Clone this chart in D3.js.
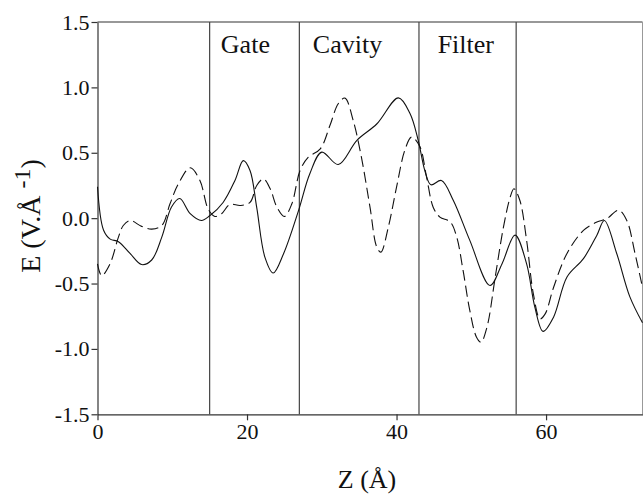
<!DOCTYPE html>
<html>
<head>
<meta charset="utf-8">
<script src="https://cdn.jsdelivr.net/npm/d3@7"></script>
<style>
  body { margin: 0; background: #fff; }
</style>
</head>
<body>
<svg width="643" height="494"></svg>
<script>
// data
const solidZ = [0, 0.8, 1.7, 2.8, 4.35, 5.9, 7.25, 8.6, 9.9, 11.0, 12.4, 13.9, 15.05, 16.8, 18.4, 19.5, 20.4, 21.3, 22.4, 23.5, 24.9, 26.9, 28.4, 30.0, 32.2, 34.7, 37.35, 40.25, 41.8, 42.9, 43.8, 44.6, 46.0, 47.6, 49.8, 52.5, 54.1, 55.85, 57.4, 58.5, 59.6, 61.0, 62.8, 65.0, 66.8, 67.8, 69.45, 71.2, 72.9];
const solidE = [0.24, -0.09, -0.16, -0.18, -0.27, -0.355, -0.32, -0.145, 0.085, 0.15, 0.035, -0.018, 0.02, 0.12, 0.29, 0.44, 0.365, 0.08, -0.3, -0.42, -0.27, 0.06, 0.34, 0.505, 0.41, 0.595, 0.72, 0.92, 0.8, 0.595, 0.36, 0.255, 0.288, 0.135, -0.17, -0.515, -0.35, -0.13, -0.35, -0.68, -0.866, -0.757, -0.45, -0.31, -0.13, -0.018, -0.27, -0.6, -0.8];

const dashZ = [0, 0.56, 1.67, 2.8, 3.45, 4.35, 5.9, 7.25, 8.6, 9.7, 10.8, 12.4, 13.7, 14.8, 15.7, 16.6, 17.7, 19.1, 20.4, 21.3, 22.2, 23.1, 24.0, 25.0, 26.0, 27.1, 28.2, 29.8, 31.1, 32.2, 33.1, 34.2, 35.3, 36.45, 37.35, 37.9, 38.9, 40.0, 41.1, 42.0, 43.1, 44.0, 44.9, 45.8, 47.2, 48.05, 48.9, 49.8, 50.7, 51.3, 52.1, 53.2, 54.3, 55.2, 55.7, 56.5, 57.4, 58.3, 59.2, 59.9, 61.0, 62.8, 65.0, 66.8, 68.1, 69.7, 70.8, 71.9, 72.9];
const dashE = [-0.35, -0.44, -0.35, -0.145, -0.056, -0.018, -0.063, -0.084, -0.056, 0.11, 0.26, 0.385, 0.288, 0.07, 0.013, 0.034, 0.105, 0.097, 0.12, 0.25, 0.30, 0.225, 0.084, 0.013, 0.11, 0.365, 0.466, 0.53, 0.71, 0.875, 0.918, 0.747, 0.466, 0.084, -0.22, -0.26, -0.069, 0.237, 0.518, 0.62, 0.55, 0.32, 0.084, 0.008, -0.03, -0.145, -0.4, -0.706, -0.91, -0.948, -0.833, -0.45, -0.069, 0.16, 0.225, 0.135, -0.17, -0.578, -0.77, -0.73, -0.53, -0.27, -0.094, -0.03, -0.005, 0.06, -0.018, -0.27, -0.53];

const regionBounds = [15, 27, 43, 56];
const regionNames = ["Gate", "Cavity", "Filter"];
const regionLabelZ = [16.5, 28.8, 45.5];

const xTicks = [0, 20, 40, 60];
const yTicks = [-1.5, -1.0, -0.5, 0.0, 0.5, 1.0, 1.5];

const serif = "'Liberation Serif'";

const margin = {top: 22, right: 0.5, bottom: 80, left: 97.5};
const svgWidth = 643, svgHeight = 494;
const width = svgWidth - margin.left - margin.right;
const height = 414.3 - margin.top;

const svg = d3.select("svg");
const chart = svg.append("g")
  .attr("transform", `translate(${margin.left}, ${margin.top})`);

const xScale = d3.scaleLinear().domain([0, 72.9]).range([0, width]);
const yScale = d3.scaleLinear().domain([-1.5, 1.5]).range([height, 0]);

// frame top / right
chart.append("line")
  .attr("x1", 0).attr("x2", width).attr("y1", 0).attr("y2", 0)
  .attr("stroke", "#333").attr("stroke-width", 1.2);
chart.append("line")
  .attr("x1", width).attr("x2", width).attr("y1", 0).attr("y2", height)
  .attr("stroke", "#999").attr("stroke-width", 1);

// region boundaries
chart.selectAll(".region")
  .data(regionBounds)
  .enter().append("line")
    .attr("class", "region")
    .attr("x1", d => xScale(d)).attr("x2", d => xScale(d))
    .attr("y1", 0).attr("y2", height)
    .attr("stroke", "#444").attr("stroke-width", 1.2);

chart.selectAll(".regionLabel")
  .data(regionNames)
  .enter().append("text")
    .attr("class", "regionLabel")
    .attr("x", (d, i) => xScale(regionLabelZ[i]))
    .attr("y", 31)
    .style("font-family", serif)
    .attr("font-size", 26)
    .attr("fill", "#111")
    .text(d => d);

// axes (plain hyphen for negatives, like the original)
const fmtY = d => d3.format(".1f")(d).replace("−", "-");
const yAxis = chart.append("g")
  .call(d3.axisLeft(yScale).tickValues(yTicks).tickFormat(fmtY).tickSize(6).tickSizeOuter(0));
const xAxis = chart.append("g")
  .attr("transform", `translate(0, ${height})`)
  .call(d3.axisBottom(xScale).tickValues(xTicks).tickFormat(d3.format("d")).tickSize(6).tickSizeOuter(0));

[xAxis, yAxis].forEach(a => {
  a.style("font-family", serif);
  a.select(".domain").attr("stroke", "#333").attr("stroke-width", 1.2);
  a.selectAll(".tick line").attr("stroke", "#333").attr("stroke-width", 1.2);
  a.selectAll(".tick text")
    .style("font-family", serif)
    .attr("font-size", 22)
    .attr("fill", "#111");
});
yAxis.selectAll(".tick text").attr("x", -8);
xAxis.selectAll(".tick text").attr("y", 9);

// lines
const line = d3.line()
  .x(d => xScale(d[0]))
  .y(d => yScale(d[1]))
  .curve(d3.curveCatmullRom.alpha(0.5));

chart.append("path")
  .datum(solidZ.map((z, i) => [z, solidE[i]]))
  .attr("d", line)
  .attr("fill", "none")
  .attr("stroke", "#111")
  .attr("stroke-width", 1.1);

chart.append("path")
  .datum(dashZ.map((z, i) => [z, dashE[i]]))
  .attr("d", line)
  .attr("fill", "none")
  .attr("stroke", "#111")
  .attr("stroke-width", 1.1)
  .attr("stroke-dasharray", "11,5");

// axis titles
svg.append("text")
  .attr("x", 367).attr("y", 488)
  .attr("text-anchor", "middle")
  .style("font-family", serif)
  .attr("font-size", 26)
  .attr("fill", "#111")
  .text("Z (Å)");

const yTitle = svg.append("text")
  .attr("transform", `translate(40, 216) rotate(-90)`)
  .attr("text-anchor", "middle")
  .style("font-family", serif)
  .attr("font-size", 28)
  .attr("fill", "#111");
yTitle.append("tspan").text("E (V.Å ");
yTitle.append("tspan").attr("dy", -10).attr("font-size", 24).text("-1");
yTitle.append("tspan").attr("dy", 10).text(")");
</script>
</body>
</html>
